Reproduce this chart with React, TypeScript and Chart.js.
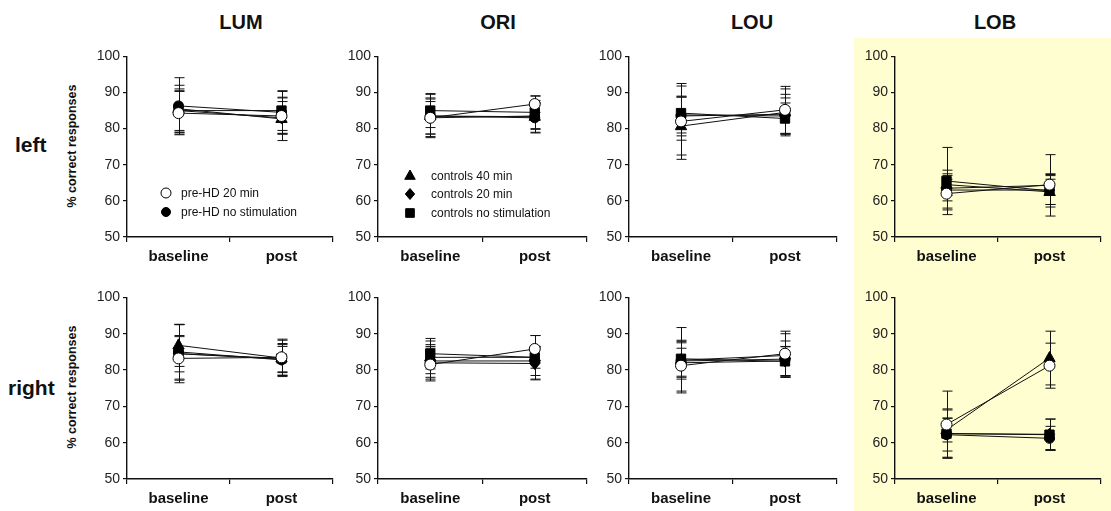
import React, { useEffect, useRef } from 'react';
import { Chart, registerables } from 'chart.js';
Chart.register(...registerables);

const categories = ['baseline', 'post'];
const seriesNames = ['pre-HD 20 min', 'pre-HD no stimulation', 'controls 40 min', 'controls 20 min', 'controls no stimulation'];
const tasks = ['LUM', 'ORI', 'LOU', 'LOB'];
const sides = ['left', 'right'];
const yTickValues = [50, 60, 70, 80, 90, 100];

// means [series][baseline, post]
const lumLeftMean = [[84.3, 83.5], [86.3, 84.5], [85.5, 82.7], [85, 83], [85, 85]];
const lumLeftErr = [[6, 5], [7.8, 5.8], [6.5, 6], [6, 4.5], [5.5, 5.5]];
const oriLeftMean = [[83, 86.8], [83.5, 83], [83.5, 83.3], [83, 83.5], [85, 84.5]];
const oriLeftErr = [[4.5, 2.3], [6, 4], [5, 4.5], [5.2, 3.7], [4.7, 4.5]];
const louLeftMean = [[82, 85.2], [83.5, 84], [80.7, 84.5], [83.8, 83.5], [84.3, 82.8]];
const louLeftErr = [[10.5, 6.5], [5.5, 5.5], [8, 6.5], [5, 5], [7.5, 4.3]];
const lobLeftMean = [[62, 64.5], [63.5, 64.3], [64.5, 62.5], [63, 63], [65.5, 62.8]];
const lobLeftErr = [[4, 3], [3.5, 8.5], [3, 3.5], [5.5, 4], [9.3, 4.5]];

const lumRightMean = [[83.2, 83.5], [85, 82.8], [86.8, 83.3], [84.5, 83], [84.5, 83.2]];
const lumRightErr = [[6, 5], [7.5, 4.2], [5.8, 4], [5, 3.5], [8, 5]];
const oriRightMean = [[81.5, 85.8], [82.5, 82.5], [83.5, 83.5], [82, 81.8], [84.5, 83.5]];
const oriRightErr = [[4.5, 3.7], [4.5, 4], [4.5, 3], [4.5, 4.5], [4.2, 6]];
const louRightMean = [[81.2, 84.5], [82.5, 83], [82.7, 84], [82, 82.5], [83.1, 82.4]];
const louRightErr = [[7, 6.2], [5, 5], [9, 6], [4, 4], [4.8, 4]];
const lobRightMean = [[65, 81.2], [62.2, 61.2], [63.5, 83.3], [62.5, 62.3], [62.5, 62.2]];
const lobRightErr = [[9.2, 6.2], [4.5, 3.3], [3.3, 7.4], [6.5, 4.2], [6.8, 4.3]];

const FONT = 'Arial, "Liberation Sans", sans-serif';

const markerStyles = [
  { shape: 'circle', fill: '#ffffff', r: 5.5 },
  { shape: 'circle', fill: '#000000', r: 5 },
  { shape: 'triangle', fill: '#000000', r: 6.5 },
  { shape: 'rectRot', fill: '#000000', r: 6 },
  { shape: 'rect', fill: '#000000', r: 6.5 },
];

// panel chart areas (page px)
const colLeft = [127, 378, 629, 895];
const colRight = [333, 587, 837, 1101];
const rowTop = [55, 296];
const rowBottom = [237, 479];

const PAD_L = 50, PAD_T = 10, PAD_R = 8, AX_H = 30;

function drawShape(ctx: CanvasRenderingContext2D, shape: string, x: number, y: number, r: number, fill: string) {
  ctx.beginPath();
  if (shape === 'circle') {
    ctx.arc(x, y, r, 0, Math.PI * 2);
  } else if (shape === 'triangle') {
    ctx.moveTo(x, y - r);
    ctx.lineTo(x + r * 0.87, y + r * 0.55);
    ctx.lineTo(x - r * 0.87, y + r * 0.55);
    ctx.closePath();
  } else if (shape === 'rectRot') {
    ctx.moveTo(x, y - r);
    ctx.lineTo(x + r * 0.85, y);
    ctx.lineTo(x, y + r);
    ctx.lineTo(x - r * 0.85, y);
    ctx.closePath();
  } else {
    const s = r * 0.72;
    ctx.rect(x - s, y - s, 2 * s, 2 * s);
  }
  ctx.fillStyle = fill;
  ctx.fill();
  ctx.strokeStyle = '#000';
  ctx.lineWidth = 1;
  ctx.stroke();
}

const errorBarPlugin = {
  id: 'errorBars',
  beforeDatasetsDraw(chart: any) {
    const ctx = chart.ctx;
    const ys = chart.scales.y;
    ctx.save();
    ctx.strokeStyle = '#111';
    ctx.lineWidth = 1;
    chart.data.datasets.forEach((ds: any, di: number) => {
      const meta = chart.getDatasetMeta(di);
      meta.data.forEach((pt: any, i: number) => {
        const v = ds.data[i];
        const e = ds.errors[i];
        const x = Math.round(pt.x) + 0.5;
        const yt = ys.getPixelForValue(v + e);
        const yb = ys.getPixelForValue(v - e);
        ctx.beginPath();
        ctx.moveTo(x, yt); ctx.lineTo(x, yb);
        ctx.moveTo(x - 5, yt); ctx.lineTo(x + 5, yt);
        ctx.moveTo(x - 5, yb); ctx.lineTo(x + 5, yb);
        ctx.stroke();
      });
    });
    ctx.restore();
  },
};

const markerPlugin = {
  id: 'customMarkers',
  afterDatasetsDraw(chart: any) {
    const ctx = chart.ctx;
    ctx.save();
    for (let di = chart.data.datasets.length - 1; di >= 0; di--) {
      const st = markerStyles[di];
      const meta = chart.getDatasetMeta(di);
      meta.data.forEach((pt: any) => drawShape(ctx, st.shape, pt.x, pt.y, st.r, st.fill));
    }
    ctx.restore();
  },
};

const innerLegendPlugin = {
  id: 'innerLegend',
  afterDraw(chart: any, _args: any, opts: any) {
    if (!opts || !opts.items) return;
    const ctx = chart.ctx;
    ctx.save();
    opts.items.forEach((it: any) => {
      const st = markerStyles[it.series];
      drawShape(ctx, st.shape, it.x, it.y, st.r - 0.5, st.fill);
      ctx.fillStyle = '#111';
      ctx.font = `12px ${FONT}`;
      ctx.textBaseline = 'middle';
      ctx.textAlign = 'left';
      ctx.fillText(seriesNames[it.series], it.textX, it.y + 0.5);
    });
    ctx.restore();
  },
};

type PanelProps = {
  row: number;
  col: number;
  means: number[][];
  errs: number[][];
  legend?: { series: number; x: number; y: number; textX: number }[];
};

function Panel({ row, col, means, errs, legend }: PanelProps) {
  const ref = useRef<HTMLCanvasElement>(null);
  const left = colLeft[col] - PAD_L;
  const top = rowTop[row] - PAD_T;
  const width = colRight[col] - colLeft[col] + PAD_L + PAD_R;
  const height = rowBottom[row] - rowTop[row] + PAD_T + AX_H;

  useEffect(() => {
    if (!ref.current) return;
    const items = (legend || []).map((l) => ({ ...l, x: l.x - left, y: l.y - top, textX: l.textX - left }));
    const chart = new Chart(ref.current, {
      type: 'line',
      data: {
        labels: categories,
        datasets: means.map((m, si) => ({
          label: seriesNames[si],
          data: m,
          errors: errs[si],
          borderColor: '#111',
          borderWidth: 1,
          pointRadius: 0,
          pointHoverRadius: 0,
          fill: false,
          tension: 0,
        })) as any,
      },
      options: {
        animation: false,
        responsive: false,
        events: [],
        layout: { padding: { left: 0, top: PAD_T, right: PAD_R, bottom: 0 } },
        plugins: {
          legend: { display: false },
          tooltip: { enabled: false },
          innerLegend: { items },
        } as any,
        scales: {
          x: {
            type: 'category',
            offset: true,
            grid: { display: true, offset: true, drawOnChartArea: false, drawTicks: true, tickLength: 5, color: '#111', lineWidth: 1.2 },
            border: { display: true, color: '#111', width: 1.4 },
            ticks: { color: '#111', font: { family: FONT, size: 15, weight: 'bold' }, padding: 6, maxRotation: 0, autoSkip: false },
            afterFit: (s: any) => { s.height = AX_H; },
          },
          y: {
            min: 50,
            max: 100,
            afterBuildTicks: (s: any) => { s.ticks = yTickValues.map((v) => ({ value: v })); },
            grid: { display: true, drawOnChartArea: false, drawTicks: true, tickLength: 4, color: '#111', lineWidth: 1.2 },
            border: { display: true, color: '#111', width: 1.4 },
            ticks: { color: '#222', font: { family: FONT, size: 14 }, padding: 3 },
            afterFit: (s: any) => { s.width = PAD_L; },
          },
        },
      } as any,
      plugins: [errorBarPlugin, markerPlugin, innerLegendPlugin],
    });
    return () => chart.destroy();
  }, []);

  return (
    <canvas
      ref={ref}
      width={width}
      height={height}
      style={{ position: 'absolute', left, top, width, height }}
    />
  );
}

const panelData = [
  [
    [lumLeftMean, lumLeftErr],
    [oriLeftMean, oriLeftErr],
    [louLeftMean, louLeftErr],
    [lobLeftMean, lobLeftErr],
  ],
  [
    [lumRightMean, lumRightErr],
    [oriRightMean, oriRightErr],
    [louRightMean, louRightErr],
    [lobRightMean, lobRightErr],
  ],
];

const legendLUM = [
  { series: 0, x: 166, y: 193, textX: 181 },
  { series: 1, x: 166, y: 212, textX: 181 },
];
const legendORI = [
  { series: 2, x: 410, y: 176, textX: 431 },
  { series: 3, x: 410, y: 194, textX: 431 },
  { series: 4, x: 410, y: 213, textX: 431 },
];

const titleCenters = [241, 498, 752, 995];

export default function App() {
  return (
    <div style={{ position: 'absolute', left: 0, top: 0, width: 1111, height: 511, overflow: 'hidden', background: '#fff', fontFamily: FONT }}>
      <div style={{ position: 'absolute', left: 854, top: 38, width: 257, height: 473, background: 'rgb(255,254,208)' }} />
      {tasks.map((t, i) => (
        <div key={t} style={{ position: 'absolute', left: titleCenters[i] - 50, width: 100, top: 10, textAlign: 'center', fontWeight: 'bold', fontSize: 20, lineHeight: '24px', color: '#111' }}>{t}</div>
      ))}
      {sides.map((s, i) => (
        <div key={s} style={{ position: 'absolute', left: i === 0 ? 15 : 8, top: (i === 0 ? 145 : 388) - 12, fontWeight: 'bold', fontSize: 21, lineHeight: '24px', color: '#111' }}>{s}</div>
      ))}
      {[146, 387].map((cy, i) => (
        <div key={i} style={{ position: 'absolute', left: 72 - 80, top: cy - 8, width: 160, textAlign: 'center', fontWeight: 'bold', fontSize: 12.5, lineHeight: '16px', color: '#111', transform: 'rotate(-90deg)' }}>% correct responses</div>
      ))}
      {panelData.map((rowData, r) =>
        rowData.map(([m, e], c) => (
          <Panel
            key={`${r}-${c}`}
            row={r}
            col={c}
            means={m}
            errs={e}
            legend={r === 0 && c === 0 ? legendLUM : r === 0 && c === 1 ? legendORI : undefined}
          />
        ))
      )}
    </div>
  );
}
